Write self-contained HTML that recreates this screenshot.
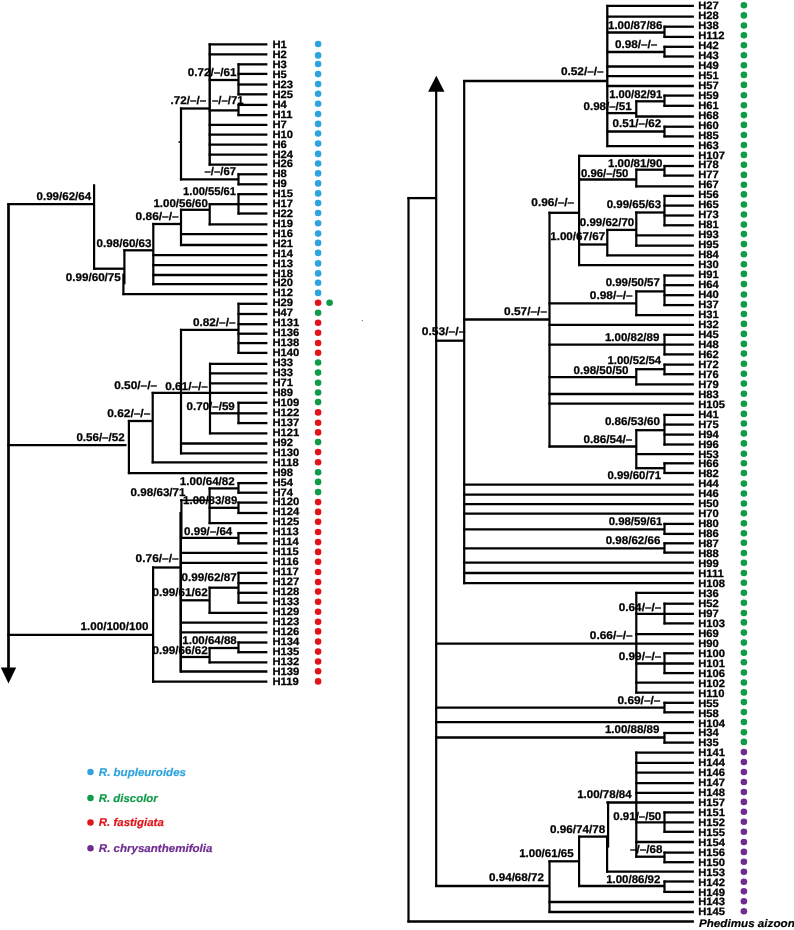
<!DOCTYPE html>
<html lang="en"><head><meta charset="utf-8"><title>Phylogenetic tree</title>
<style>html,body{margin:0;padding:0;background:#fff}svg{display:block;will-change:transform;opacity:0.999}text{text-rendering:geometricPrecision}</style></head>
<body>
<svg width="794" height="930" viewBox="0 0 794 930">
<rect width="794" height="930" fill="#ffffff"/>
<g stroke="#000" stroke-linecap="butt" fill="none">
<line x1="208.65" y1="44.35" x2="267.40" y2="44.35" stroke-width="2.3"/>
<line x1="208.65" y1="54.35" x2="267.40" y2="54.35" stroke-width="2.3"/>
<line x1="237.45" y1="64.35" x2="267.40" y2="64.35" stroke-width="2.3"/>
<line x1="237.45" y1="73.90" x2="267.40" y2="73.90" stroke-width="2.3"/>
<line x1="237.45" y1="84.50" x2="267.40" y2="84.50" stroke-width="2.3"/>
<line x1="237.45" y1="94.35" x2="267.40" y2="94.35" stroke-width="2.3"/>
<line x1="237.45" y1="104.90" x2="267.40" y2="104.90" stroke-width="2.3"/>
<line x1="237.45" y1="115.10" x2="267.40" y2="115.10" stroke-width="2.3"/>
<line x1="208.65" y1="124.80" x2="267.40" y2="124.80" stroke-width="2.3"/>
<line x1="208.65" y1="134.60" x2="267.40" y2="134.60" stroke-width="2.3"/>
<line x1="208.65" y1="144.70" x2="267.40" y2="144.70" stroke-width="2.3"/>
<line x1="208.65" y1="154.70" x2="267.40" y2="154.70" stroke-width="2.3"/>
<line x1="208.65" y1="164.60" x2="267.40" y2="164.60" stroke-width="2.3"/>
<line x1="237.45" y1="174.30" x2="267.40" y2="174.30" stroke-width="2.3"/>
<line x1="237.45" y1="184.30" x2="267.40" y2="184.30" stroke-width="2.3"/>
<line x1="237.45" y1="194.20" x2="267.40" y2="194.20" stroke-width="2.3"/>
<line x1="237.45" y1="204.20" x2="267.40" y2="204.20" stroke-width="2.3"/>
<line x1="237.45" y1="213.50" x2="267.40" y2="213.50" stroke-width="2.3"/>
<line x1="208.65" y1="224.40" x2="267.40" y2="224.40" stroke-width="2.3"/>
<line x1="179.95" y1="234.20" x2="267.40" y2="234.20" stroke-width="2.3"/>
<line x1="179.95" y1="245.00" x2="267.40" y2="245.00" stroke-width="2.3"/>
<line x1="152.25" y1="255.20" x2="267.40" y2="255.20" stroke-width="2.3"/>
<line x1="152.25" y1="265.10" x2="267.40" y2="265.10" stroke-width="2.3"/>
<line x1="152.25" y1="275.00" x2="267.40" y2="275.00" stroke-width="2.3"/>
<line x1="152.25" y1="284.20" x2="267.40" y2="284.20" stroke-width="2.3"/>
<line x1="122.35" y1="294.10" x2="267.40" y2="294.10" stroke-width="2.3"/>
<line x1="237.45" y1="303.80" x2="267.40" y2="303.80" stroke-width="2.3"/>
<line x1="237.45" y1="314.00" x2="267.40" y2="314.00" stroke-width="2.3"/>
<line x1="237.45" y1="324.20" x2="267.40" y2="324.20" stroke-width="2.3"/>
<line x1="237.45" y1="333.70" x2="267.40" y2="333.70" stroke-width="2.3"/>
<line x1="237.45" y1="343.10" x2="267.40" y2="343.10" stroke-width="2.3"/>
<line x1="237.45" y1="352.90" x2="267.40" y2="352.90" stroke-width="2.3"/>
<line x1="208.95" y1="363.80" x2="267.40" y2="363.80" stroke-width="2.3"/>
<line x1="208.95" y1="373.30" x2="267.40" y2="373.30" stroke-width="2.3"/>
<line x1="208.95" y1="383.40" x2="267.40" y2="383.40" stroke-width="2.3"/>
<line x1="151.65" y1="392.90" x2="267.40" y2="392.90" stroke-width="2.3"/>
<line x1="237.45" y1="402.80" x2="267.40" y2="402.80" stroke-width="2.3"/>
<line x1="237.45" y1="413.30" x2="267.40" y2="413.30" stroke-width="2.3"/>
<line x1="237.45" y1="423.10" x2="267.40" y2="423.10" stroke-width="2.3"/>
<line x1="208.95" y1="433.30" x2="267.40" y2="433.30" stroke-width="2.3"/>
<line x1="179.95" y1="443.50" x2="267.40" y2="443.50" stroke-width="2.3"/>
<line x1="179.95" y1="453.40" x2="267.40" y2="453.40" stroke-width="2.3"/>
<line x1="151.65" y1="462.30" x2="267.40" y2="462.30" stroke-width="2.3"/>
<line x1="127.85" y1="473.10" x2="267.40" y2="473.10" stroke-width="2.3"/>
<line x1="237.45" y1="483.10" x2="267.40" y2="483.10" stroke-width="2.3"/>
<line x1="237.45" y1="492.70" x2="267.40" y2="492.70" stroke-width="2.3"/>
<line x1="237.45" y1="502.60" x2="267.40" y2="502.60" stroke-width="2.3"/>
<line x1="237.45" y1="513.00" x2="267.40" y2="513.00" stroke-width="2.3"/>
<line x1="208.55" y1="523.10" x2="267.40" y2="523.10" stroke-width="2.3"/>
<line x1="237.45" y1="533.10" x2="267.40" y2="533.10" stroke-width="2.3"/>
<line x1="237.45" y1="543.30" x2="267.40" y2="543.30" stroke-width="2.3"/>
<line x1="179.95" y1="552.80" x2="267.40" y2="552.80" stroke-width="2.3"/>
<line x1="179.95" y1="562.90" x2="267.40" y2="562.90" stroke-width="2.3"/>
<line x1="237.45" y1="572.90" x2="267.40" y2="572.90" stroke-width="2.3"/>
<line x1="237.45" y1="583.10" x2="267.40" y2="583.10" stroke-width="2.3"/>
<line x1="237.45" y1="592.80" x2="267.40" y2="592.80" stroke-width="2.3"/>
<line x1="237.45" y1="602.70" x2="267.40" y2="602.70" stroke-width="2.3"/>
<line x1="208.55" y1="612.90" x2="267.40" y2="612.90" stroke-width="2.3"/>
<line x1="179.95" y1="622.60" x2="267.40" y2="622.60" stroke-width="2.3"/>
<line x1="179.95" y1="632.30" x2="267.40" y2="632.30" stroke-width="2.3"/>
<line x1="237.45" y1="642.50" x2="267.40" y2="642.50" stroke-width="2.3"/>
<line x1="237.45" y1="652.20" x2="267.40" y2="652.20" stroke-width="2.3"/>
<line x1="208.55" y1="662.40" x2="267.40" y2="662.40" stroke-width="2.3"/>
<line x1="179.95" y1="671.50" x2="267.40" y2="671.50" stroke-width="2.3"/>
<line x1="152.05" y1="681.70" x2="267.40" y2="681.70" stroke-width="2.3"/>
<line x1="209.70" y1="43.30" x2="209.70" y2="165.65" stroke-width="2.4"/>
<line x1="238.50" y1="63.30" x2="238.50" y2="95.40" stroke-width="2.2"/>
<line x1="208.65" y1="80.00" x2="238.50" y2="80.00" stroke-width="2.3"/>
<line x1="238.50" y1="103.85" x2="238.50" y2="116.15" stroke-width="2.2"/>
<line x1="208.65" y1="110.40" x2="238.50" y2="110.40" stroke-width="2.3"/>
<line x1="179.95" y1="108.50" x2="209.70" y2="108.50" stroke-width="2.3"/>
<line x1="181.00" y1="107.45" x2="181.00" y2="180.35" stroke-width="2.2"/>
<line x1="238.50" y1="173.25" x2="238.50" y2="185.35" stroke-width="2.2"/>
<line x1="179.95" y1="179.30" x2="238.50" y2="179.30" stroke-width="2.3"/>
<line x1="238.50" y1="193.15" x2="238.50" y2="214.55" stroke-width="2.2"/>
<line x1="208.65" y1="204.20" x2="238.50" y2="204.20" stroke-width="2.3"/>
<line x1="209.70" y1="203.15" x2="209.70" y2="225.45" stroke-width="2.2"/>
<line x1="179.95" y1="209.80" x2="209.70" y2="209.80" stroke-width="2.3"/>
<line x1="181.00" y1="208.75" x2="181.00" y2="246.05" stroke-width="2.2"/>
<line x1="152.25" y1="224.00" x2="181.00" y2="224.00" stroke-width="2.3"/>
<line x1="153.30" y1="222.95" x2="153.30" y2="285.25" stroke-width="2.2"/>
<line x1="123.35" y1="250.30" x2="153.30" y2="250.30" stroke-width="2.3"/>
<line x1="124.40" y1="249.25" x2="124.40" y2="284.25" stroke-width="2.2"/>
<line x1="123.40" y1="273.55" x2="123.40" y2="295.15" stroke-width="2.2"/>
<line x1="93.05" y1="268.70" x2="124.40" y2="268.70" stroke-width="2.3"/>
<line x1="94.10" y1="184.25" x2="94.10" y2="269.75" stroke-width="2.2"/>
<line x1="7.45" y1="204.20" x2="94.10" y2="204.20" stroke-width="2.3"/>
<line x1="8.50" y1="203.15" x2="8.50" y2="670.05" stroke-width="2.7"/>
<line x1="238.50" y1="302.75" x2="238.50" y2="353.95" stroke-width="2.2"/>
<line x1="179.95" y1="329.90" x2="238.50" y2="329.90" stroke-width="2.3"/>
<line x1="181.00" y1="328.85" x2="181.00" y2="454.45" stroke-width="2.2"/>
<line x1="210.00" y1="362.75" x2="210.00" y2="434.35" stroke-width="2.2"/>
<line x1="238.50" y1="401.75" x2="238.50" y2="424.15" stroke-width="2.2"/>
<line x1="208.95" y1="413.30" x2="238.50" y2="413.30" stroke-width="2.3"/>
<line x1="152.70" y1="391.85" x2="152.70" y2="463.35" stroke-width="2.2"/>
<line x1="127.85" y1="421.00" x2="152.70" y2="421.00" stroke-width="2.3"/>
<line x1="128.90" y1="419.95" x2="128.90" y2="474.15" stroke-width="2.2"/>
<line x1="7.45" y1="445.10" x2="126.50" y2="445.10" stroke-width="2.3"/>
<line x1="238.50" y1="482.05" x2="238.50" y2="493.75" stroke-width="2.2"/>
<line x1="208.55" y1="488.40" x2="238.50" y2="488.40" stroke-width="2.3"/>
<line x1="238.50" y1="501.55" x2="238.50" y2="514.05" stroke-width="2.2"/>
<line x1="208.55" y1="507.80" x2="238.50" y2="507.80" stroke-width="2.3"/>
<line x1="209.60" y1="487.35" x2="209.60" y2="524.15" stroke-width="2.2"/>
<line x1="179.95" y1="500.30" x2="209.60" y2="500.30" stroke-width="1.7"/>
<line x1="181.40" y1="498.95" x2="181.40" y2="539.25" stroke-width="2.2"/>
<line x1="180.70" y1="511.95" x2="180.70" y2="672.55" stroke-width="2.6"/>
<line x1="238.50" y1="532.05" x2="238.50" y2="544.35" stroke-width="2.2"/>
<line x1="179.95" y1="537.80" x2="238.50" y2="537.80" stroke-width="2.3"/>
<line x1="152.05" y1="567.50" x2="181.00" y2="567.50" stroke-width="2.3"/>
<line x1="238.50" y1="571.85" x2="238.50" y2="603.75" stroke-width="2.2"/>
<line x1="208.55" y1="587.70" x2="238.50" y2="587.70" stroke-width="2.3"/>
<line x1="209.60" y1="586.65" x2="209.60" y2="613.95" stroke-width="2.2"/>
<line x1="179.95" y1="600.30" x2="209.60" y2="600.30" stroke-width="2.3"/>
<line x1="238.50" y1="641.45" x2="238.50" y2="653.25" stroke-width="2.2"/>
<line x1="208.55" y1="648.00" x2="238.50" y2="648.00" stroke-width="2.3"/>
<line x1="209.60" y1="646.95" x2="209.60" y2="663.45" stroke-width="2.2"/>
<line x1="179.95" y1="657.00" x2="209.60" y2="657.00" stroke-width="2.3"/>
<line x1="153.10" y1="566.45" x2="153.10" y2="682.75" stroke-width="2.2"/>
<line x1="7.45" y1="634.80" x2="153.10" y2="634.80" stroke-width="2.3"/>
<line x1="606.25" y1="5.90" x2="693.90" y2="5.90" stroke-width="2.3"/>
<line x1="606.25" y1="16.70" x2="693.90" y2="16.70" stroke-width="2.3"/>
<line x1="663.45" y1="26.70" x2="693.90" y2="26.70" stroke-width="2.3"/>
<line x1="663.45" y1="36.90" x2="693.90" y2="36.90" stroke-width="2.3"/>
<line x1="663.45" y1="46.80" x2="693.90" y2="46.80" stroke-width="2.3"/>
<line x1="663.45" y1="56.50" x2="693.90" y2="56.50" stroke-width="2.3"/>
<line x1="606.25" y1="66.50" x2="693.90" y2="66.50" stroke-width="2.3"/>
<line x1="606.25" y1="76.10" x2="693.90" y2="76.10" stroke-width="2.3"/>
<line x1="606.25" y1="86.00" x2="693.90" y2="86.00" stroke-width="2.3"/>
<line x1="663.45" y1="95.60" x2="693.90" y2="95.60" stroke-width="2.3"/>
<line x1="663.45" y1="105.80" x2="693.90" y2="105.80" stroke-width="2.3"/>
<line x1="635.25" y1="116.50" x2="693.90" y2="116.50" stroke-width="2.3"/>
<line x1="663.45" y1="126.70" x2="693.90" y2="126.70" stroke-width="2.3"/>
<line x1="663.45" y1="136.40" x2="693.90" y2="136.40" stroke-width="2.3"/>
<line x1="606.25" y1="146.10" x2="693.90" y2="146.10" stroke-width="2.3"/>
<line x1="578.05" y1="155.80" x2="693.90" y2="155.80" stroke-width="2.3"/>
<line x1="663.45" y1="166.00" x2="693.90" y2="166.00" stroke-width="2.3"/>
<line x1="663.45" y1="175.60" x2="693.90" y2="175.60" stroke-width="2.3"/>
<line x1="635.25" y1="186.40" x2="693.90" y2="186.40" stroke-width="2.3"/>
<line x1="663.45" y1="195.90" x2="693.90" y2="195.90" stroke-width="2.3"/>
<line x1="663.45" y1="205.60" x2="693.90" y2="205.60" stroke-width="2.3"/>
<line x1="663.45" y1="215.50" x2="693.90" y2="215.50" stroke-width="2.3"/>
<line x1="663.45" y1="225.30" x2="693.90" y2="225.30" stroke-width="2.3"/>
<line x1="635.25" y1="235.40" x2="693.90" y2="235.40" stroke-width="2.3"/>
<line x1="635.25" y1="245.70" x2="693.90" y2="245.70" stroke-width="2.3"/>
<line x1="606.25" y1="255.30" x2="693.90" y2="255.30" stroke-width="2.3"/>
<line x1="578.05" y1="265.05" x2="693.90" y2="265.05" stroke-width="2.3"/>
<line x1="663.45" y1="275.50" x2="693.90" y2="275.50" stroke-width="2.3"/>
<line x1="663.45" y1="285.20" x2="693.90" y2="285.20" stroke-width="2.3"/>
<line x1="663.45" y1="295.20" x2="693.90" y2="295.20" stroke-width="2.3"/>
<line x1="663.45" y1="305.10" x2="693.90" y2="305.10" stroke-width="2.3"/>
<line x1="635.25" y1="315.10" x2="693.90" y2="315.10" stroke-width="2.3"/>
<line x1="548.45" y1="324.80" x2="693.90" y2="324.80" stroke-width="2.3"/>
<line x1="663.45" y1="334.80" x2="693.90" y2="334.80" stroke-width="2.3"/>
<line x1="548.45" y1="344.70" x2="693.90" y2="344.70" stroke-width="2.3"/>
<line x1="663.45" y1="354.40" x2="693.90" y2="354.40" stroke-width="2.3"/>
<line x1="663.45" y1="364.60" x2="693.90" y2="364.60" stroke-width="2.3"/>
<line x1="663.45" y1="374.20" x2="693.90" y2="374.20" stroke-width="2.3"/>
<line x1="635.25" y1="384.40" x2="693.90" y2="384.40" stroke-width="2.3"/>
<line x1="548.45" y1="394.00" x2="693.90" y2="394.00" stroke-width="2.3"/>
<line x1="548.45" y1="403.70" x2="693.90" y2="403.70" stroke-width="2.3"/>
<line x1="663.45" y1="414.90" x2="693.90" y2="414.90" stroke-width="2.3"/>
<line x1="663.45" y1="424.60" x2="693.90" y2="424.60" stroke-width="2.3"/>
<line x1="663.45" y1="434.60" x2="693.90" y2="434.60" stroke-width="2.3"/>
<line x1="663.45" y1="444.50" x2="693.90" y2="444.50" stroke-width="2.3"/>
<line x1="635.25" y1="454.20" x2="693.90" y2="454.20" stroke-width="2.3"/>
<line x1="663.45" y1="463.30" x2="693.90" y2="463.30" stroke-width="2.3"/>
<line x1="663.45" y1="473.00" x2="693.90" y2="473.00" stroke-width="2.3"/>
<line x1="463.15" y1="484.70" x2="693.90" y2="484.70" stroke-width="2.3"/>
<line x1="463.15" y1="494.60" x2="693.90" y2="494.60" stroke-width="2.3"/>
<line x1="463.15" y1="504.20" x2="693.90" y2="504.20" stroke-width="2.3"/>
<line x1="463.15" y1="513.70" x2="693.90" y2="513.70" stroke-width="2.3"/>
<line x1="663.45" y1="523.90" x2="693.90" y2="523.90" stroke-width="2.3"/>
<line x1="663.45" y1="533.90" x2="693.90" y2="533.90" stroke-width="2.3"/>
<line x1="663.45" y1="543.30" x2="693.90" y2="543.30" stroke-width="2.3"/>
<line x1="663.45" y1="552.60" x2="693.90" y2="552.60" stroke-width="2.3"/>
<line x1="463.15" y1="562.60" x2="693.90" y2="562.60" stroke-width="2.3"/>
<line x1="463.15" y1="573.00" x2="693.90" y2="573.00" stroke-width="2.3"/>
<line x1="463.15" y1="583.20" x2="693.90" y2="583.20" stroke-width="2.3"/>
<line x1="635.25" y1="592.90" x2="693.90" y2="592.90" stroke-width="2.3"/>
<line x1="663.45" y1="603.70" x2="693.90" y2="603.70" stroke-width="2.3"/>
<line x1="635.25" y1="613.80" x2="693.90" y2="613.80" stroke-width="2.3"/>
<line x1="663.45" y1="623.40" x2="693.90" y2="623.40" stroke-width="2.3"/>
<line x1="635.25" y1="634.20" x2="693.90" y2="634.20" stroke-width="2.3"/>
<line x1="435.15" y1="643.70" x2="693.90" y2="643.70" stroke-width="2.3"/>
<line x1="663.45" y1="653.30" x2="693.90" y2="653.30" stroke-width="2.3"/>
<line x1="635.25" y1="663.50" x2="693.90" y2="663.50" stroke-width="2.3"/>
<line x1="663.45" y1="673.10" x2="693.90" y2="673.10" stroke-width="2.3"/>
<line x1="635.25" y1="682.70" x2="693.90" y2="682.70" stroke-width="2.3"/>
<line x1="635.25" y1="692.70" x2="693.90" y2="692.70" stroke-width="2.3"/>
<line x1="663.45" y1="702.80" x2="693.90" y2="702.80" stroke-width="2.3"/>
<line x1="663.45" y1="712.30" x2="693.90" y2="712.30" stroke-width="2.3"/>
<line x1="435.15" y1="722.20" x2="693.90" y2="722.20" stroke-width="2.3"/>
<line x1="663.45" y1="733.00" x2="693.90" y2="733.00" stroke-width="2.3"/>
<line x1="663.45" y1="742.60" x2="693.90" y2="742.60" stroke-width="2.3"/>
<line x1="635.25" y1="752.60" x2="693.90" y2="752.60" stroke-width="2.3"/>
<line x1="635.25" y1="762.90" x2="693.90" y2="762.90" stroke-width="2.3"/>
<line x1="635.25" y1="772.70" x2="693.90" y2="772.70" stroke-width="2.3"/>
<line x1="635.25" y1="783.10" x2="693.90" y2="783.10" stroke-width="2.3"/>
<line x1="635.25" y1="792.80" x2="693.90" y2="792.80" stroke-width="2.3"/>
<line x1="606.25" y1="802.50" x2="693.90" y2="802.50" stroke-width="2.3"/>
<line x1="663.45" y1="812.40" x2="693.90" y2="812.40" stroke-width="2.3"/>
<line x1="635.25" y1="822.40" x2="693.90" y2="822.40" stroke-width="2.3"/>
<line x1="663.45" y1="831.80" x2="693.90" y2="831.80" stroke-width="2.3"/>
<line x1="635.25" y1="842.00" x2="693.90" y2="842.00" stroke-width="2.3"/>
<line x1="663.45" y1="852.60" x2="693.90" y2="852.60" stroke-width="2.3"/>
<line x1="663.45" y1="862.20" x2="693.90" y2="862.20" stroke-width="2.3"/>
<line x1="606.25" y1="871.70" x2="693.90" y2="871.70" stroke-width="2.3"/>
<line x1="663.45" y1="881.50" x2="693.90" y2="881.50" stroke-width="2.3"/>
<line x1="663.45" y1="891.90" x2="693.90" y2="891.90" stroke-width="2.3"/>
<line x1="548.45" y1="902.00" x2="693.90" y2="902.00" stroke-width="2.3"/>
<line x1="548.45" y1="912.00" x2="693.90" y2="912.00" stroke-width="2.3"/>
<line x1="407.45" y1="921.50" x2="693.90" y2="921.50" stroke-width="2.3"/>
<line x1="607.30" y1="4.85" x2="607.30" y2="147.15" stroke-width="2.3"/>
<line x1="463.15" y1="81.00" x2="607.30" y2="81.00" stroke-width="2.3"/>
<line x1="664.50" y1="25.65" x2="664.50" y2="37.95" stroke-width="2.2"/>
<line x1="606.25" y1="32.50" x2="664.50" y2="32.50" stroke-width="2.3"/>
<line x1="664.50" y1="45.75" x2="664.50" y2="57.55" stroke-width="2.2"/>
<line x1="606.25" y1="52.00" x2="664.50" y2="52.00" stroke-width="2.3"/>
<line x1="664.50" y1="94.55" x2="664.50" y2="106.85" stroke-width="2.2"/>
<line x1="635.25" y1="101.30" x2="664.50" y2="101.30" stroke-width="2.3"/>
<line x1="636.30" y1="100.25" x2="636.30" y2="117.55" stroke-width="2.2"/>
<line x1="606.25" y1="113.10" x2="636.30" y2="113.10" stroke-width="2.3"/>
<line x1="664.50" y1="125.65" x2="664.50" y2="137.45" stroke-width="2.2"/>
<line x1="606.25" y1="131.50" x2="664.50" y2="131.50" stroke-width="2.3"/>
<line x1="464.20" y1="79.95" x2="464.20" y2="584.25" stroke-width="2.2"/>
<line x1="463.15" y1="319.50" x2="549.50" y2="319.50" stroke-width="2.3"/>
<line x1="549.50" y1="211.75" x2="549.50" y2="447.55" stroke-width="2.2"/>
<line x1="548.45" y1="212.80" x2="579.10" y2="212.80" stroke-width="2.3"/>
<line x1="579.10" y1="154.75" x2="579.10" y2="266.10" stroke-width="2.2"/>
<line x1="664.50" y1="164.95" x2="664.50" y2="176.65" stroke-width="2.2"/>
<line x1="635.25" y1="169.70" x2="664.50" y2="169.70" stroke-width="2.3"/>
<line x1="636.30" y1="168.65" x2="636.30" y2="187.45" stroke-width="2.2"/>
<line x1="578.05" y1="179.50" x2="636.30" y2="179.50" stroke-width="2.3"/>
<line x1="664.50" y1="194.85" x2="664.50" y2="226.35" stroke-width="2.2"/>
<line x1="635.25" y1="212.50" x2="664.50" y2="212.50" stroke-width="2.3"/>
<line x1="636.30" y1="211.45" x2="636.30" y2="246.75" stroke-width="2.2"/>
<line x1="606.25" y1="229.90" x2="636.30" y2="229.90" stroke-width="2.3"/>
<line x1="607.30" y1="228.85" x2="607.30" y2="256.35" stroke-width="2.2"/>
<line x1="578.05" y1="244.50" x2="607.30" y2="244.50" stroke-width="2.3"/>
<line x1="664.50" y1="274.45" x2="664.50" y2="306.15" stroke-width="2.2"/>
<line x1="635.25" y1="291.40" x2="664.50" y2="291.40" stroke-width="2.3"/>
<line x1="636.30" y1="290.35" x2="636.30" y2="316.15" stroke-width="2.2"/>
<line x1="548.45" y1="303.30" x2="636.30" y2="303.30" stroke-width="2.3"/>
<line x1="664.50" y1="333.75" x2="664.50" y2="355.45" stroke-width="2.2"/>
<line x1="664.50" y1="363.55" x2="664.50" y2="375.25" stroke-width="2.2"/>
<line x1="635.25" y1="369.20" x2="664.50" y2="369.20" stroke-width="2.3"/>
<line x1="636.30" y1="368.15" x2="636.30" y2="385.45" stroke-width="2.2"/>
<line x1="548.45" y1="377.20" x2="636.30" y2="377.20" stroke-width="2.3"/>
<line x1="664.50" y1="413.85" x2="664.50" y2="445.55" stroke-width="2.2"/>
<line x1="635.25" y1="430.20" x2="664.50" y2="430.20" stroke-width="2.3"/>
<line x1="636.30" y1="429.15" x2="636.30" y2="469.25" stroke-width="2.2"/>
<line x1="664.50" y1="462.25" x2="664.50" y2="474.05" stroke-width="2.2"/>
<line x1="635.25" y1="468.20" x2="664.50" y2="468.20" stroke-width="2.3"/>
<line x1="548.45" y1="446.50" x2="636.30" y2="446.50" stroke-width="2.3"/>
<line x1="664.50" y1="522.85" x2="664.50" y2="534.95" stroke-width="2.2"/>
<line x1="463.15" y1="529.30" x2="664.50" y2="529.30" stroke-width="2.3"/>
<line x1="664.50" y1="542.25" x2="664.50" y2="553.65" stroke-width="2.2"/>
<line x1="463.15" y1="548.30" x2="664.50" y2="548.30" stroke-width="2.3"/>
<line x1="435.15" y1="340.70" x2="464.20" y2="340.70" stroke-width="2.3"/>
<line x1="436.20" y1="88.95" x2="436.20" y2="887.05" stroke-width="2.2"/>
<line x1="636.30" y1="591.85" x2="636.30" y2="693.75" stroke-width="2.2"/>
<line x1="664.50" y1="602.65" x2="664.50" y2="624.45" stroke-width="2.2"/>
<line x1="664.50" y1="652.25" x2="664.50" y2="674.15" stroke-width="2.2"/>
<line x1="664.50" y1="701.75" x2="664.50" y2="713.35" stroke-width="2.2"/>
<line x1="435.15" y1="707.70" x2="664.50" y2="707.70" stroke-width="2.3"/>
<line x1="664.50" y1="731.95" x2="664.50" y2="743.65" stroke-width="2.2"/>
<line x1="435.15" y1="737.50" x2="664.50" y2="737.50" stroke-width="2.3"/>
<line x1="435.15" y1="886.00" x2="549.50" y2="886.00" stroke-width="2.3"/>
<line x1="549.50" y1="860.25" x2="549.50" y2="913.05" stroke-width="2.2"/>
<line x1="548.45" y1="861.30" x2="579.10" y2="861.30" stroke-width="2.3"/>
<line x1="579.10" y1="835.55" x2="579.10" y2="887.05" stroke-width="2.2"/>
<line x1="578.05" y1="886.00" x2="664.50" y2="886.00" stroke-width="2.3"/>
<line x1="664.50" y1="880.45" x2="664.50" y2="892.95" stroke-width="2.2"/>
<line x1="578.05" y1="836.60" x2="607.30" y2="836.60" stroke-width="2.3"/>
<line x1="608.10" y1="801.45" x2="608.10" y2="847.65" stroke-width="2.2"/>
<line x1="607.10" y1="835.55" x2="607.10" y2="872.75" stroke-width="2.2"/>
<line x1="636.30" y1="751.55" x2="636.30" y2="857.75" stroke-width="2.2"/>
<line x1="664.50" y1="811.35" x2="664.50" y2="832.85" stroke-width="2.2"/>
<line x1="664.50" y1="851.55" x2="664.50" y2="863.25" stroke-width="2.2"/>
<line x1="635.25" y1="856.70" x2="664.50" y2="856.70" stroke-width="2.3"/>
<line x1="408.50" y1="197.05" x2="408.50" y2="922.55" stroke-width="2.2"/>
<line x1="407.45" y1="198.10" x2="436.20" y2="198.10" stroke-width="2.3"/>
</g>
<polygon points="0.8,667.5 16.2,667.5 8.5,683.4" fill="#000"/>
<polygon points="428.1,91.8 444.5,91.8 436.3,75.8" fill="#000"/>
<rect x="361.8" y="320.1" width="1" height="1" fill="#555"/>
<rect x="178.5" y="141.3" width="1.7" height="1.5" fill="#000"/>
<g font-family="'Liberation Sans',Arial,Helvetica,sans-serif" font-weight="bold" font-size="10.7" fill="#000" stroke="#000" stroke-width="0.28" stroke-linejoin="round">
<text transform="translate(272.45,47.55) scale(1.05,1)">H1</text>
<text transform="translate(272.45,57.59) scale(1.05,1)">H2</text>
<text transform="translate(272.45,67.62) scale(1.05,1)">H3</text>
<text transform="translate(272.45,77.66) scale(1.05,1)">H5</text>
<text transform="translate(272.45,87.70) scale(1.05,1)">H23</text>
<text transform="translate(272.45,97.74) scale(1.05,1)">H25</text>
<text transform="translate(272.45,107.77) scale(1.05,1)">H4</text>
<text transform="translate(272.45,117.81) scale(1.05,1)">H11</text>
<text transform="translate(272.45,127.85) scale(1.05,1)">H7</text>
<text transform="translate(272.45,137.74) scale(1.05,1)">H10</text>
<text transform="translate(272.45,147.63) scale(1.05,1)">H6</text>
<text transform="translate(272.45,157.52) scale(1.05,1)">H24</text>
<text transform="translate(272.45,167.41) scale(1.05,1)">H26</text>
<text transform="translate(272.45,177.30) scale(1.05,1)">H8</text>
<text transform="translate(272.45,187.19) scale(1.05,1)">H9</text>
<text transform="translate(272.45,197.08) scale(1.05,1)">H15</text>
<text transform="translate(272.45,206.97) scale(1.05,1)">H17</text>
<text transform="translate(272.45,216.86) scale(1.05,1)">H22</text>
<text transform="translate(272.45,226.75) scale(1.05,1)">H19</text>
<text transform="translate(272.45,236.71) scale(1.05,1)">H16</text>
<text transform="translate(272.45,246.66) scale(1.05,1)">H21</text>
<text transform="translate(272.45,256.62) scale(1.05,1)">H14</text>
<text transform="translate(272.45,266.57) scale(1.05,1)">H13</text>
<text transform="translate(272.45,276.53) scale(1.05,1)">H18</text>
<text transform="translate(272.45,286.48) scale(1.05,1)">H20</text>
<text transform="translate(272.45,296.44) scale(1.05,1)">H12</text>
<text transform="translate(272.45,306.39) scale(1.05,1)">H29</text>
<text transform="translate(272.45,316.35) scale(1.05,1)">H47</text>
<text transform="translate(272.45,326.32) scale(1.05,1)">H131</text>
<text transform="translate(272.45,336.29) scale(1.05,1)">H136</text>
<text transform="translate(272.45,346.26) scale(1.05,1)">H138</text>
<text transform="translate(272.45,356.23) scale(1.05,1)">H140</text>
<text transform="translate(272.45,366.20) scale(1.05,1)">H33</text>
<text transform="translate(272.45,376.17) scale(1.05,1)">H33</text>
<text transform="translate(272.45,386.14) scale(1.05,1)">H71</text>
<text transform="translate(272.45,396.11) scale(1.05,1)">H89</text>
<text transform="translate(272.45,406.08) scale(1.05,1)">H109</text>
<text transform="translate(272.45,416.05) scale(1.05,1)">H122</text>
<text transform="translate(272.45,425.98) scale(1.05,1)">H137</text>
<text transform="translate(272.45,435.92) scale(1.05,1)">H121</text>
<text transform="translate(272.45,445.85) scale(1.05,1)">H92</text>
<text transform="translate(272.45,455.78) scale(1.05,1)">H130</text>
<text transform="translate(272.45,465.72) scale(1.05,1)">H118</text>
<text transform="translate(272.45,475.65) scale(1.05,1)">H98</text>
<text transform="translate(272.45,485.58) scale(1.05,1)">H54</text>
<text transform="translate(272.45,495.52) scale(1.05,1)">H74</text>
<text transform="translate(272.45,505.45) scale(1.05,1)">H120</text>
<text transform="translate(272.45,515.44) scale(1.05,1)">H124</text>
<text transform="translate(272.45,525.43) scale(1.05,1)">H125</text>
<text transform="translate(272.45,535.42) scale(1.05,1)">H113</text>
<text transform="translate(272.45,545.41) scale(1.05,1)">H114</text>
<text transform="translate(272.45,555.40) scale(1.05,1)">H115</text>
<text transform="translate(272.45,565.39) scale(1.05,1)">H116</text>
<text transform="translate(272.45,575.38) scale(1.05,1)">H117</text>
<text transform="translate(272.45,585.37) scale(1.05,1)">H127</text>
<text transform="translate(272.45,595.36) scale(1.05,1)">H128</text>
<text transform="translate(272.45,605.35) scale(1.05,1)">H133</text>
<text transform="translate(272.45,615.33) scale(1.05,1)">H129</text>
<text transform="translate(272.45,625.30) scale(1.05,1)">H123</text>
<text transform="translate(272.45,635.27) scale(1.05,1)">H126</text>
<text transform="translate(272.45,645.25) scale(1.05,1)">H134</text>
<text transform="translate(272.45,655.23) scale(1.05,1)">H135</text>
<text transform="translate(272.45,665.20) scale(1.05,1)">H132</text>
<text transform="translate(272.45,675.17) scale(1.05,1)">H139</text>
<text transform="translate(272.45,685.15) scale(1.05,1)">H119</text>
<text transform="translate(698.2,8.95) scale(1.05,1)">H27</text>
<text transform="translate(698.2,18.95) scale(1.05,1)">H28</text>
<text transform="translate(698.2,28.95) scale(1.05,1)">H38</text>
<text transform="translate(698.2,38.95) scale(1.05,1)">H112</text>
<text transform="translate(698.2,48.95) scale(1.05,1)">H42</text>
<text transform="translate(698.2,58.95) scale(1.05,1)">H43</text>
<text transform="translate(698.2,68.95) scale(1.05,1)">H49</text>
<text transform="translate(698.2,78.95) scale(1.05,1)">H51</text>
<text transform="translate(698.2,88.95) scale(1.05,1)">H57</text>
<text transform="translate(698.2,98.95) scale(1.05,1)">H59</text>
<text transform="translate(698.2,108.88) scale(1.05,1)">H61</text>
<text transform="translate(698.2,118.82) scale(1.05,1)">H68</text>
<text transform="translate(698.2,128.75) scale(1.05,1)">H60</text>
<text transform="translate(698.2,138.68) scale(1.05,1)">H85</text>
<text transform="translate(698.2,148.62) scale(1.05,1)">H63</text>
<text transform="translate(698.2,158.55) scale(1.05,1)">H107</text>
<text transform="translate(698.2,168.48) scale(1.05,1)">H78</text>
<text transform="translate(698.2,178.42) scale(1.05,1)">H77</text>
<text transform="translate(698.2,188.35) scale(1.05,1)">H67</text>
<text transform="translate(698.2,198.34) scale(1.05,1)">H56</text>
<text transform="translate(698.2,208.33) scale(1.05,1)">H65</text>
<text transform="translate(698.2,218.32) scale(1.05,1)">H73</text>
<text transform="translate(698.2,228.31) scale(1.05,1)">H81</text>
<text transform="translate(698.2,238.30) scale(1.05,1)">H93</text>
<text transform="translate(698.2,248.29) scale(1.05,1)">H95</text>
<text transform="translate(698.2,258.28) scale(1.05,1)">H84</text>
<text transform="translate(698.2,268.27) scale(1.05,1)">H30</text>
<text transform="translate(698.2,278.26) scale(1.05,1)">H91</text>
<text transform="translate(698.2,288.25) scale(1.05,1)">H64</text>
<text transform="translate(698.2,298.21) scale(1.05,1)">H40</text>
<text transform="translate(698.2,308.16) scale(1.05,1)">H37</text>
<text transform="translate(698.2,318.12) scale(1.05,1)">H31</text>
<text transform="translate(698.2,328.07) scale(1.05,1)">H32</text>
<text transform="translate(698.2,338.03) scale(1.05,1)">H45</text>
<text transform="translate(698.2,347.98) scale(1.05,1)">H48</text>
<text transform="translate(698.2,357.94) scale(1.05,1)">H62</text>
<text transform="translate(698.2,367.89) scale(1.05,1)">H72</text>
<text transform="translate(698.2,377.85) scale(1.05,1)">H76</text>
<text transform="translate(698.2,387.81) scale(1.05,1)">H79</text>
<text transform="translate(698.2,397.77) scale(1.05,1)">H83</text>
<text transform="translate(698.2,407.73) scale(1.05,1)">H105</text>
<text transform="translate(698.2,417.69) scale(1.05,1)">H41</text>
<text transform="translate(698.2,427.65) scale(1.05,1)">H75</text>
<text transform="translate(698.2,437.61) scale(1.05,1)">H94</text>
<text transform="translate(698.2,447.57) scale(1.05,1)">H96</text>
<text transform="translate(698.2,457.53) scale(1.05,1)">H53</text>
<text transform="translate(698.2,467.49) scale(1.05,1)">H66</text>
<text transform="translate(698.2,477.45) scale(1.05,1)">H82</text>
<text transform="translate(698.2,487.44) scale(1.05,1)">H44</text>
<text transform="translate(698.2,497.43) scale(1.05,1)">H46</text>
<text transform="translate(698.2,507.42) scale(1.05,1)">H50</text>
<text transform="translate(698.2,517.41) scale(1.05,1)">H70</text>
<text transform="translate(698.2,527.39) scale(1.05,1)">H80</text>
<text transform="translate(698.2,537.38) scale(1.05,1)">H86</text>
<text transform="translate(698.2,547.37) scale(1.05,1)">H87</text>
<text transform="translate(698.2,557.36) scale(1.05,1)">H88</text>
<text transform="translate(698.2,567.35) scale(1.05,1)">H99</text>
<text transform="translate(698.2,577.28) scale(1.05,1)">H111</text>
<text transform="translate(698.2,587.21) scale(1.05,1)">H108</text>
<text transform="translate(698.2,597.14) scale(1.05,1)">H36</text>
<text transform="translate(698.2,607.07) scale(1.05,1)">H52</text>
<text transform="translate(698.2,617.00) scale(1.05,1)">H97</text>
<text transform="translate(698.2,626.93) scale(1.05,1)">H103</text>
<text transform="translate(698.2,636.86) scale(1.05,1)">H69</text>
<text transform="translate(698.2,646.79) scale(1.05,1)">H90</text>
<text transform="translate(698.2,656.72) scale(1.05,1)">H100</text>
<text transform="translate(698.2,666.65) scale(1.05,1)">H101</text>
<text transform="translate(698.2,676.63) scale(1.05,1)">H106</text>
<text transform="translate(698.2,686.61) scale(1.05,1)">H102</text>
<text transform="translate(698.2,696.58) scale(1.05,1)">H110</text>
<text transform="translate(698.2,706.56) scale(1.05,1)">H55</text>
<text transform="translate(698.2,716.54) scale(1.05,1)">H58</text>
<text transform="translate(698.2,726.52) scale(1.05,1)">H104</text>
<text transform="translate(698.2,736.49) scale(1.05,1)">H34</text>
<text transform="translate(698.2,746.47) scale(1.05,1)">H35</text>
<text transform="translate(698.2,756.45) scale(1.05,1)">H141</text>
<text transform="translate(698.2,766.40) scale(1.05,1)">H144</text>
<text transform="translate(698.2,776.35) scale(1.05,1)">H146</text>
<text transform="translate(698.2,786.30) scale(1.05,1)">H147</text>
<text transform="translate(698.2,796.25) scale(1.05,1)">H148</text>
<text transform="translate(698.2,806.20) scale(1.05,1)">H157</text>
<text transform="translate(698.2,816.15) scale(1.05,1)">H151</text>
<text transform="translate(698.2,826.10) scale(1.05,1)">H152</text>
<text transform="translate(698.2,836.05) scale(1.05,1)">H155</text>
<text transform="translate(698.2,846.00) scale(1.05,1)">H154</text>
<text transform="translate(698.2,855.95) scale(1.05,1)">H156</text>
<text transform="translate(698.2,865.85) scale(1.05,1)">H150</text>
<text transform="translate(698.2,875.75) scale(1.05,1)">H153</text>
<text transform="translate(698.2,885.65) scale(1.05,1)">H142</text>
<text transform="translate(698.2,895.55) scale(1.05,1)">H149</text>
<text transform="translate(698.2,905.45) scale(1.05,1)">H143</text>
<text transform="translate(698.2,915.35) scale(1.05,1)">H145</text>
</g>
<text transform="translate(698.9,926.5) scale(1.06,1)" font-family="'Liberation Sans',Arial,sans-serif" font-weight="bold" font-style="italic" font-size="11" stroke="#000" stroke-width="0.2">Phedimus aizoon</text>
<g font-family="'Liberation Sans',Arial,Helvetica,sans-serif" font-weight="bold" font-size="11.2" fill="#000" stroke="#000" stroke-width="0.25" stroke-linejoin="round">
<text x="187.70" y="75.80" textLength="48.70" lengthAdjust="spacingAndGlyphs">0.72/–/61</text>
<text x="170.60" y="104.40" textLength="35.60" lengthAdjust="spacingAndGlyphs">.72/–/–</text>
<text x="211.90" y="103.80" textLength="31.80" lengthAdjust="spacingAndGlyphs">–/–/71</text>
<text x="204.50" y="175.20" textLength="31.50" lengthAdjust="spacingAndGlyphs">–/–/67</text>
<text x="183.10" y="194.80" textLength="52.90" lengthAdjust="spacingAndGlyphs">1.00/55/61</text>
<text x="153.40" y="206.70" textLength="54.40" lengthAdjust="spacingAndGlyphs">1.00/56/60</text>
<text x="135.60" y="219.80" textLength="43.10" lengthAdjust="spacingAndGlyphs">0.86/–/–</text>
<text x="36.60" y="199.60" textLength="54.50" lengthAdjust="spacingAndGlyphs">0.99/62/64</text>
<text x="96.60" y="246.50" textLength="54.90" lengthAdjust="spacingAndGlyphs">0.98/60/63</text>
<text x="65.80" y="281.00" textLength="55.00" lengthAdjust="spacingAndGlyphs">0.99/60/75</text>
<text x="192.90" y="326.00" textLength="42.60" lengthAdjust="spacingAndGlyphs">0.82/–/–</text>
<text x="114.20" y="388.70" textLength="42.90" lengthAdjust="spacingAndGlyphs">0.50/–/–</text>
<text x="165.20" y="389.60" textLength="42.60" lengthAdjust="spacingAndGlyphs">0.61/–/–</text>
<text x="186.60" y="410.40" textLength="48.20" lengthAdjust="spacingAndGlyphs">0.70/–/59</text>
<text x="107.20" y="417.20" textLength="43.10" lengthAdjust="spacingAndGlyphs">0.62/–/–</text>
<text x="76.40" y="441.30" textLength="48.20" lengthAdjust="spacingAndGlyphs">0.56/–/52</text>
<text x="179.80" y="484.70" textLength="55.00" lengthAdjust="spacingAndGlyphs">1.00/64/82</text>
<text x="130.60" y="496.00" textLength="54.90" lengthAdjust="spacingAndGlyphs">0.98/63/71</text>
<text x="183.10" y="504.30" textLength="54.20" lengthAdjust="spacingAndGlyphs">1.00/83/89</text>
<text x="184.10" y="534.50" textLength="48.20" lengthAdjust="spacingAndGlyphs">0.99/–/64</text>
<text x="135.60" y="562.20" textLength="43.10" lengthAdjust="spacingAndGlyphs">0.76/–/–</text>
<text x="181.60" y="581.40" textLength="55.20" lengthAdjust="spacingAndGlyphs">0.99/62/87</text>
<text x="152.60" y="596.00" textLength="55.20" lengthAdjust="spacingAndGlyphs">0.99/61/62</text>
<text x="80.60" y="630.10" textLength="67.80" lengthAdjust="spacingAndGlyphs">1.00/100/100</text>
<text x="182.30" y="643.60" textLength="54.50" lengthAdjust="spacingAndGlyphs">1.00/64/88</text>
<text x="152.60" y="653.70" textLength="55.20" lengthAdjust="spacingAndGlyphs">0.99/66/62</text>
<text x="608.00" y="28.70" textLength="54.40" lengthAdjust="spacingAndGlyphs">1.00/87/86</text>
<text x="615.00" y="47.90" textLength="42.40" lengthAdjust="spacingAndGlyphs">0.98/–/–</text>
<text x="560.90" y="75.00" textLength="42.80" lengthAdjust="spacingAndGlyphs">0.52/–/–</text>
<text x="609.20" y="97.70" textLength="53.20" lengthAdjust="spacingAndGlyphs">1.00/82/91</text>
<text x="583.50" y="110.10" textLength="48.20" lengthAdjust="spacingAndGlyphs">0.98/–/51</text>
<text x="612.50" y="127.20" textLength="48.70" lengthAdjust="spacingAndGlyphs">0.51/–/62</text>
<text x="608.00" y="167.20" textLength="54.40" lengthAdjust="spacingAndGlyphs">1.00/81/90</text>
<text x="581.00" y="177.00" textLength="47.40" lengthAdjust="spacingAndGlyphs">0.96/–/50</text>
<text x="531.30" y="206.40" textLength="42.90" lengthAdjust="spacingAndGlyphs">0.96/–/–</text>
<text x="606.70" y="207.50" textLength="54.50" lengthAdjust="spacingAndGlyphs">0.99/65/63</text>
<text x="579.80" y="225.60" textLength="54.40" lengthAdjust="spacingAndGlyphs">0.99/62/70</text>
<text x="550.20" y="239.50" textLength="55.00" lengthAdjust="spacingAndGlyphs">1.00/67/67</text>
<text x="605.70" y="285.60" textLength="54.20" lengthAdjust="spacingAndGlyphs">0.99/50/57</text>
<text x="589.80" y="298.50" textLength="42.90" lengthAdjust="spacingAndGlyphs">0.98/–/–</text>
<text x="504.10" y="314.80" textLength="42.90" lengthAdjust="spacingAndGlyphs">0.57/–/–</text>
<text x="421.80" y="334.70" textLength="43.60" lengthAdjust="spacingAndGlyphs">0.53/–/–</text>
<text x="604.90" y="341.00" textLength="54.50" lengthAdjust="spacingAndGlyphs">1.00/82/89</text>
<text x="607.50" y="363.70" textLength="53.70" lengthAdjust="spacingAndGlyphs">1.00/52/54</text>
<text x="573.50" y="374.00" textLength="54.90" lengthAdjust="spacingAndGlyphs">0.98/50/50</text>
<text x="604.90" y="425.20" textLength="55.00" lengthAdjust="spacingAndGlyphs">0.86/53/60</text>
<text x="583.50" y="442.80" textLength="48.70" lengthAdjust="spacingAndGlyphs">0.86/54/–</text>
<text x="607.50" y="478.60" textLength="53.70" lengthAdjust="spacingAndGlyphs">0.99/60/71</text>
<text x="608.70" y="525.20" textLength="53.70" lengthAdjust="spacingAndGlyphs">0.98/59/61</text>
<text x="605.70" y="544.00" textLength="54.70" lengthAdjust="spacingAndGlyphs">0.98/62/66</text>
<text x="618.80" y="611.10" textLength="42.40" lengthAdjust="spacingAndGlyphs">0.64/–/–</text>
<text x="589.80" y="638.80" textLength="42.90" lengthAdjust="spacingAndGlyphs">0.66/–/–</text>
<text x="618.80" y="659.90" textLength="42.40" lengthAdjust="spacingAndGlyphs">0.99/–/–</text>
<text x="617.50" y="704.00" textLength="42.90" lengthAdjust="spacingAndGlyphs">0.69/–/–</text>
<text x="604.90" y="732.50" textLength="54.50" lengthAdjust="spacingAndGlyphs">1.00/88/89</text>
<text x="577.20" y="797.50" textLength="54.50" lengthAdjust="spacingAndGlyphs">1.00/78/84</text>
<text x="613.30" y="820.30" textLength="47.90" lengthAdjust="spacingAndGlyphs">0.91/–/50</text>
<text x="550.00" y="832.60" textLength="55.20" lengthAdjust="spacingAndGlyphs">0.96/74/78</text>
<text x="630.10" y="852.50" textLength="32.30" lengthAdjust="spacingAndGlyphs">–/–/68</text>
<text x="519.20" y="856.80" textLength="54.50" lengthAdjust="spacingAndGlyphs">1.00/61/65</text>
<text x="489.00" y="880.70" textLength="55.00" lengthAdjust="spacingAndGlyphs">0.94/68/72</text>
<text x="606.20" y="882.70" textLength="54.20" lengthAdjust="spacingAndGlyphs">1.00/86/92</text>
</g>
<g>
<circle cx="318.1" cy="44.00" r="3.3" fill="#2ea3dd"/>
<circle cx="318.1" cy="55.40" r="3.3" fill="#2ea3dd"/>
<circle cx="318.1" cy="64.00" r="3.3" fill="#2ea3dd"/>
<circle cx="318.1" cy="74.10" r="3.3" fill="#2ea3dd"/>
<circle cx="318.1" cy="84.10" r="3.3" fill="#2ea3dd"/>
<circle cx="318.1" cy="93.80" r="3.3" fill="#2ea3dd"/>
<circle cx="318.1" cy="103.80" r="3.3" fill="#2ea3dd"/>
<circle cx="318.1" cy="114.00" r="3.3" fill="#2ea3dd"/>
<circle cx="318.1" cy="123.90" r="3.3" fill="#2ea3dd"/>
<circle cx="318.1" cy="133.50" r="3.3" fill="#2ea3dd"/>
<circle cx="318.1" cy="143.60" r="3.3" fill="#2ea3dd"/>
<circle cx="318.1" cy="153.90" r="3.3" fill="#2ea3dd"/>
<circle cx="318.1" cy="163.50" r="3.3" fill="#2ea3dd"/>
<circle cx="318.1" cy="173.40" r="3.3" fill="#2ea3dd"/>
<circle cx="318.1" cy="183.40" r="3.3" fill="#2ea3dd"/>
<circle cx="318.1" cy="193.40" r="3.3" fill="#2ea3dd"/>
<circle cx="318.1" cy="203.10" r="3.3" fill="#2ea3dd"/>
<circle cx="318.1" cy="213.00" r="3.3" fill="#2ea3dd"/>
<circle cx="318.1" cy="223.20" r="3.3" fill="#2ea3dd"/>
<circle cx="318.1" cy="233.60" r="3.3" fill="#2ea3dd"/>
<circle cx="318.1" cy="242.90" r="3.3" fill="#2ea3dd"/>
<circle cx="318.1" cy="252.90" r="3.3" fill="#2ea3dd"/>
<circle cx="318.1" cy="263.40" r="3.3" fill="#2ea3dd"/>
<circle cx="318.1" cy="273.40" r="3.3" fill="#2ea3dd"/>
<circle cx="318.1" cy="282.70" r="3.3" fill="#2ea3dd"/>
<circle cx="318.1" cy="292.90" r="3.3" fill="#2ea3dd"/>
<circle cx="318.1" cy="302.80" r="3.3" fill="#e1141c"/>
<circle cx="318.1" cy="312.80" r="3.3" fill="#0f9b48"/>
<circle cx="318.1" cy="322.70" r="3.3" fill="#e1141c"/>
<circle cx="318.1" cy="332.80" r="3.3" fill="#e1141c"/>
<circle cx="318.1" cy="343.00" r="3.3" fill="#e1141c"/>
<circle cx="318.1" cy="352.80" r="3.3" fill="#e1141c"/>
<circle cx="318.1" cy="362.50" r="3.3" fill="#0f9b48"/>
<circle cx="318.1" cy="372.60" r="3.3" fill="#0f9b48"/>
<circle cx="318.1" cy="382.80" r="3.3" fill="#0f9b48"/>
<circle cx="318.1" cy="392.50" r="3.3" fill="#0f9b48"/>
<circle cx="318.1" cy="402.10" r="3.3" fill="#0f9b48"/>
<circle cx="318.1" cy="412.40" r="3.3" fill="#e1141c"/>
<circle cx="318.1" cy="422.70" r="3.3" fill="#e1141c"/>
<circle cx="318.1" cy="432.40" r="3.3" fill="#e1141c"/>
<circle cx="318.1" cy="442.10" r="3.3" fill="#0f9b48"/>
<circle cx="318.1" cy="452.10" r="3.3" fill="#e1141c"/>
<circle cx="318.1" cy="462.20" r="3.3" fill="#e1141c"/>
<circle cx="318.1" cy="472.20" r="3.3" fill="#0f9b48"/>
<circle cx="318.1" cy="481.90" r="3.3" fill="#0f9b48"/>
<circle cx="318.1" cy="492.10" r="3.3" fill="#0f9b48"/>
<circle cx="318.1" cy="502.10" r="3.3" fill="#e1141c"/>
<circle cx="318.1" cy="511.90" r="3.3" fill="#e1141c"/>
<circle cx="318.1" cy="521.80" r="3.3" fill="#e1141c"/>
<circle cx="318.1" cy="532.00" r="3.3" fill="#e1141c"/>
<circle cx="318.1" cy="542.10" r="3.3" fill="#e1141c"/>
<circle cx="318.1" cy="551.90" r="3.3" fill="#e1141c"/>
<circle cx="318.1" cy="561.80" r="3.3" fill="#e1141c"/>
<circle cx="318.1" cy="572.00" r="3.3" fill="#e1141c"/>
<circle cx="318.1" cy="582.00" r="3.3" fill="#e1141c"/>
<circle cx="318.1" cy="591.60" r="3.3" fill="#e1141c"/>
<circle cx="318.1" cy="601.70" r="3.3" fill="#e1141c"/>
<circle cx="318.1" cy="611.80" r="3.3" fill="#e1141c"/>
<circle cx="318.1" cy="621.70" r="3.3" fill="#e1141c"/>
<circle cx="318.1" cy="631.40" r="3.3" fill="#e1141c"/>
<circle cx="318.1" cy="641.60" r="3.3" fill="#e1141c"/>
<circle cx="318.1" cy="651.60" r="3.3" fill="#e1141c"/>
<circle cx="318.1" cy="661.50" r="3.3" fill="#e1141c"/>
<circle cx="318.1" cy="671.20" r="3.3" fill="#e1141c"/>
<circle cx="318.1" cy="681.40" r="3.3" fill="#e1141c"/>
<circle cx="329.6" cy="302.80" r="3.3" fill="#0f9b48"/>
<circle cx="743.9" cy="5.20" r="3.3" fill="#0f9b48"/>
<circle cx="743.9" cy="15.40" r="3.3" fill="#0f9b48"/>
<circle cx="743.9" cy="25.50" r="3.3" fill="#0f9b48"/>
<circle cx="743.9" cy="35.30" r="3.3" fill="#0f9b48"/>
<circle cx="743.9" cy="45.20" r="3.3" fill="#0f9b48"/>
<circle cx="743.9" cy="55.20" r="3.3" fill="#0f9b48"/>
<circle cx="743.9" cy="65.30" r="3.3" fill="#0f9b48"/>
<circle cx="743.9" cy="74.90" r="3.3" fill="#0f9b48"/>
<circle cx="743.9" cy="84.90" r="3.3" fill="#0f9b48"/>
<circle cx="743.9" cy="95.20" r="3.3" fill="#0f9b48"/>
<circle cx="743.9" cy="105.20" r="3.3" fill="#0f9b48"/>
<circle cx="743.9" cy="115.10" r="3.3" fill="#0f9b48"/>
<circle cx="743.9" cy="124.90" r="3.3" fill="#0f9b48"/>
<circle cx="743.9" cy="135.00" r="3.3" fill="#0f9b48"/>
<circle cx="743.9" cy="145.00" r="3.3" fill="#0f9b48"/>
<circle cx="743.9" cy="154.90" r="3.3" fill="#0f9b48"/>
<circle cx="743.9" cy="164.70" r="3.3" fill="#0f9b48"/>
<circle cx="743.9" cy="174.90" r="3.3" fill="#0f9b48"/>
<circle cx="743.9" cy="184.80" r="3.3" fill="#0f9b48"/>
<circle cx="743.9" cy="194.40" r="3.3" fill="#0f9b48"/>
<circle cx="743.9" cy="204.50" r="3.3" fill="#0f9b48"/>
<circle cx="743.9" cy="214.50" r="3.3" fill="#0f9b48"/>
<circle cx="743.9" cy="224.60" r="3.3" fill="#0f9b48"/>
<circle cx="743.9" cy="234.10" r="3.3" fill="#0f9b48"/>
<circle cx="743.9" cy="244.10" r="3.3" fill="#0f9b48"/>
<circle cx="743.9" cy="254.20" r="3.3" fill="#0f9b48"/>
<circle cx="743.9" cy="264.20" r="3.3" fill="#0f9b48"/>
<circle cx="743.9" cy="273.90" r="3.3" fill="#0f9b48"/>
<circle cx="743.9" cy="284.10" r="3.3" fill="#0f9b48"/>
<circle cx="743.9" cy="294.50" r="3.3" fill="#0f9b48"/>
<circle cx="743.9" cy="304.40" r="3.3" fill="#0f9b48"/>
<circle cx="743.9" cy="314.00" r="3.3" fill="#0f9b48"/>
<circle cx="743.9" cy="323.90" r="3.3" fill="#0f9b48"/>
<circle cx="743.9" cy="333.90" r="3.3" fill="#0f9b48"/>
<circle cx="743.9" cy="343.90" r="3.3" fill="#0f9b48"/>
<circle cx="743.9" cy="353.60" r="3.3" fill="#0f9b48"/>
<circle cx="743.9" cy="363.70" r="3.3" fill="#0f9b48"/>
<circle cx="743.9" cy="373.70" r="3.3" fill="#0f9b48"/>
<circle cx="743.9" cy="383.60" r="3.3" fill="#0f9b48"/>
<circle cx="743.9" cy="393.80" r="3.3" fill="#0f9b48"/>
<circle cx="743.9" cy="403.70" r="3.3" fill="#0f9b48"/>
<circle cx="743.9" cy="413.90" r="3.3" fill="#0f9b48"/>
<circle cx="743.9" cy="423.50" r="3.3" fill="#0f9b48"/>
<circle cx="743.9" cy="433.40" r="3.3" fill="#0f9b48"/>
<circle cx="743.9" cy="443.40" r="3.3" fill="#0f9b48"/>
<circle cx="743.9" cy="453.70" r="3.3" fill="#0f9b48"/>
<circle cx="743.9" cy="463.30" r="3.3" fill="#0f9b48"/>
<circle cx="743.9" cy="473.00" r="3.3" fill="#0f9b48"/>
<circle cx="743.9" cy="483.60" r="3.3" fill="#0f9b48"/>
<circle cx="743.9" cy="493.50" r="3.3" fill="#0f9b48"/>
<circle cx="743.9" cy="503.50" r="3.3" fill="#0f9b48"/>
<circle cx="743.9" cy="513.20" r="3.3" fill="#0f9b48"/>
<circle cx="743.9" cy="523.20" r="3.3" fill="#0f9b48"/>
<circle cx="743.9" cy="533.30" r="3.3" fill="#0f9b48"/>
<circle cx="743.9" cy="542.70" r="3.3" fill="#0f9b48"/>
<circle cx="743.9" cy="553.00" r="3.3" fill="#0f9b48"/>
<circle cx="743.9" cy="562.80" r="3.3" fill="#0f9b48"/>
<circle cx="743.9" cy="573.00" r="3.3" fill="#0f9b48"/>
<circle cx="743.9" cy="582.70" r="3.3" fill="#0f9b48"/>
<circle cx="743.9" cy="592.80" r="3.3" fill="#0f9b48"/>
<circle cx="743.9" cy="602.80" r="3.3" fill="#0f9b48"/>
<circle cx="743.9" cy="613.00" r="3.3" fill="#0f9b48"/>
<circle cx="743.9" cy="622.40" r="3.3" fill="#0f9b48"/>
<circle cx="743.9" cy="632.60" r="3.3" fill="#0f9b48"/>
<circle cx="743.9" cy="642.60" r="3.3" fill="#0f9b48"/>
<circle cx="743.9" cy="652.80" r="3.3" fill="#0f9b48"/>
<circle cx="743.9" cy="662.30" r="3.3" fill="#0f9b48"/>
<circle cx="743.9" cy="672.50" r="3.3" fill="#0f9b48"/>
<circle cx="743.9" cy="682.50" r="3.3" fill="#0f9b48"/>
<circle cx="743.9" cy="692.40" r="3.3" fill="#0f9b48"/>
<circle cx="743.9" cy="702.10" r="3.3" fill="#0f9b48"/>
<circle cx="743.9" cy="712.10" r="3.3" fill="#0f9b48"/>
<circle cx="743.9" cy="722.00" r="3.3" fill="#0f9b48"/>
<circle cx="743.9" cy="732.20" r="3.3" fill="#0f9b48"/>
<circle cx="743.9" cy="741.90" r="3.3" fill="#0f9b48"/>
<circle cx="743.9" cy="752.10" r="3.3" fill="#6f2c91"/>
<circle cx="743.9" cy="762.00" r="3.3" fill="#6f2c91"/>
<circle cx="743.9" cy="772.00" r="3.3" fill="#6f2c91"/>
<circle cx="743.9" cy="782.00" r="3.3" fill="#6f2c91"/>
<circle cx="743.9" cy="792.00" r="3.3" fill="#6f2c91"/>
<circle cx="743.9" cy="801.90" r="3.3" fill="#6f2c91"/>
<circle cx="743.9" cy="811.80" r="3.3" fill="#6f2c91"/>
<circle cx="743.9" cy="821.80" r="3.3" fill="#6f2c91"/>
<circle cx="743.9" cy="831.80" r="3.3" fill="#6f2c91"/>
<circle cx="743.9" cy="842.00" r="3.3" fill="#6f2c91"/>
<circle cx="743.9" cy="851.90" r="3.3" fill="#6f2c91"/>
<circle cx="743.9" cy="861.70" r="3.3" fill="#6f2c91"/>
<circle cx="743.9" cy="871.70" r="3.3" fill="#6f2c91"/>
<circle cx="743.9" cy="881.80" r="3.3" fill="#6f2c91"/>
<circle cx="743.9" cy="891.20" r="3.3" fill="#6f2c91"/>
<circle cx="743.9" cy="901.20" r="3.3" fill="#6f2c91"/>
<circle cx="743.9" cy="911.30" r="3.3" fill="#6f2c91"/>
</g>
<g font-family="'Liberation Sans',Arial,sans-serif" font-weight="bold" font-style="italic" font-size="11.2">
<circle cx="90.5" cy="772.0" r="3.25" fill="#2ea3dd"/>
<text x="98.8" y="775.5999999999999" fill="#2ea3dd" stroke="#2ea3dd" stroke-width="0.2" textLength="87.20" lengthAdjust="spacingAndGlyphs">R. bupleuroides</text>
<circle cx="90.5" cy="797.9" r="3.25" fill="#0f9b48"/>
<text x="98.8" y="801.5" fill="#0f9b48" stroke="#0f9b48" stroke-width="0.2" textLength="58.90" lengthAdjust="spacingAndGlyphs">R. discolor</text>
<circle cx="90.5" cy="822.6" r="3.25" fill="#e1141c"/>
<text x="98.8" y="826.4" fill="#e1141c" stroke="#e1141c" stroke-width="0.2" textLength="65.00" lengthAdjust="spacingAndGlyphs">R. fastigiata</text>
<circle cx="90.5" cy="848.3" r="3.25" fill="#6f2c91"/>
<text x="98.8" y="851.9" fill="#6f2c91" stroke="#6f2c91" stroke-width="0.2" textLength="113.60" lengthAdjust="spacingAndGlyphs">R. chrysanthemifolia</text>
</g>
</svg>
</body></html>
